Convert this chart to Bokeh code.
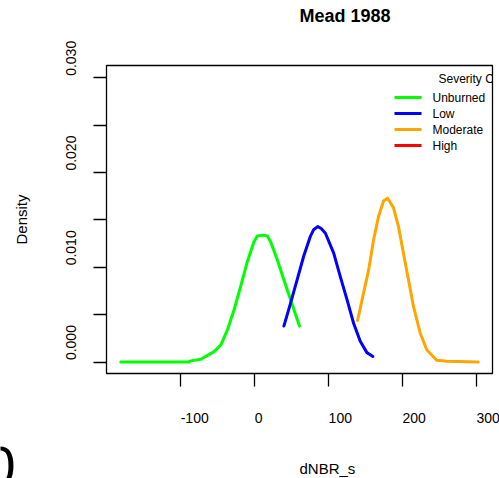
import math
from bokeh.plotting import figure
from bokeh.models import Range1d, Label, FixedTicker, CustomJSTickFormatter, LinearAxis
from bokeh.core.properties import value
from bokeh.embed import file_html
from bokeh.resources import INLINE

# ---------------- data ----------------
title_text = "Mead 1988"
x_label = "dNBR_s"
y_label = "Density"
legend_title = "Severity Class"
series_names = ["Unburned", "Low", "Moderate", "High"]
series_colors = ["#00FF00", "#0000FF", "#FFA500", "#FF0000"]

unburned_x = [-181, -88.5, -88, -72.8, -54.8, -45.8, -36.8, -27.9, -18.9, -9.9, -0.9, 3.6, 11.7, 17.1, 21.6, 30.6, 39.5, 48.5, 60.6]
unburned_y = [0.0, 0.0, 0.0001, 0.0003, 0.0011, 0.0018, 0.0034, 0.0055, 0.0080, 0.0106, 0.0127, 0.0133, 0.0134, 0.0133, 0.0127, 0.0108, 0.0087, 0.0066, 0.0038]

low_x = [39.5, 48.5, 57.5, 66.4, 75.5, 80.0, 85.3, 90.0, 95.7, 106.9, 115.9, 124.9, 133.8, 142.8, 151.8, 159.9]
low_y = [0.0038, 0.0062, 0.0087, 0.0112, 0.0133, 0.0140, 0.0143, 0.0141, 0.0136, 0.0115, 0.0090, 0.0066, 0.0041, 0.0022, 0.0010, 0.0006]

moderate_x = [139.2, 147.3, 154.1, 160.8, 167.6, 174.3, 179.7, 187.7, 194.5, 201.2, 208.0, 214.7, 223.7, 232.7, 246.2, 259.7, 302.3]
moderate_y = [0.0044, 0.0073, 0.0097, 0.0129, 0.0154, 0.0170, 0.0173, 0.0163, 0.0143, 0.0115, 0.0087, 0.0059, 0.0031, 0.0013, 0.0002, 0.0001, 0.0000]

high_x = []
high_y = []

y_limits = [0.0, 0.0301]

x_ticks = [-100, 0, 100, 200, 300]
x_tick_labels = ["-100", "0", "100", "200", "300"]
y_ticks = [0.0, 0.005, 0.010, 0.015, 0.020, 0.025, 0.030]
y_labeled_ticks = [0.0, 0.010, 0.020, 0.030]
y_tick_labels = ["0.000", "0.010", "0.020", "0.030"]

# ---------------- layout ----------------
W, H = 499, 478
FL, FR, FT, FB = 106, 492, 65, 373   # plot box edges in pixels (from top-left)
FONT = "Liberation Sans"

all_x = [unburned_x, low_x, moderate_x, high_x]
all_y = [unburned_y, low_y, moderate_y, high_y]

# R-style plot region: data range extended by 4 % on each side
xs_flat = [v for s in all_x for v in s]
xmin, xmax = min(xs_flat), max(xs_flat)
X0 = xmin - 0.04 * (xmax - xmin)
X1 = xmax + 0.04 * (xmax - xmin)
Y0 = y_limits[0] - 0.04 * (y_limits[1] - y_limits[0])
Y1 = y_limits[1] + 0.04 * (y_limits[1] - y_limits[0])

def dx(px):
    return X0 + (px - FL) / (FR - FL) * (X1 - X0)

def dy(py):
    return Y0 + (FB - py) / (FB - FT) * (Y1 - Y0)

px_per_y = (FB - FT) / (Y1 - Y0)

# the plotting frame spans the whole canvas; the R box is drawn inside it
p = figure(width=W, height=H, output_backend="svg", toolbar_location=None,
           x_range=Range1d(dx(0), dx(W)), y_range=Range1d(dy(H), dy(0)),
           x_axis_location=None, y_axis_location=None, min_border=0)
p.grid.visible = False
p.outline_line_color = None
p.background_fill_color = "white"
p.border_fill_color = "white"

blank = CustomJSTickFormatter(code="return ''")

def tick_axis(ticks, loc):
    ax = LinearAxis(ticker=FixedTicker(ticks=ticks), fixed_location=loc, formatter=blank)
    ax.axis_line_color = None
    ax.minor_tick_line_color = None
    ax.minor_tick_in = 0
    ax.minor_tick_out = 0
    ax.major_tick_out = 0
    ax.major_tick_in = 13
    ax.major_tick_line_width = 1.3
    ax.major_tick_line_color = "black"
    ax.major_label_text_color = None
    ax.major_label_standoff = 0
    return ax

# ticks pointing outward from the box (an "above" axis pinned at the box bottom
# draws its ticks downward, a "right" axis pinned at the box left draws them leftward)
p.add_layout(tick_axis(x_ticks, Y0), "above")
p.add_layout(tick_axis(y_ticks, X0), "right")

# density curves
for xs, ys, c in zip(all_x, all_y, series_colors):
    if xs:
        p.line(xs, ys, line_color=c, line_width=3, line_join="round", line_cap="round")

# legend (R legend clipped by the plot region)
leg_y_px = [97, 113, 129, 145]
p.segment(x0=[dx(394)] * 4, y0=[dy(py) for py in leg_y_px], x1=[dx(421)] * 4,
          y1=[dy(py) for py in leg_y_px], line_color=series_colors, line_width=3)
p.text(x=[dx(432)] * 4, y=[dy(py) for py in leg_y_px], text=series_names,
       text_font=value(FONT), text_font_size="12px", text_baseline="middle", text_align="left",
       text_color="black")
p.text(x=[dx(438)], y=[dy(78)], text=[legend_title], text_font=value(FONT), text_font_size="12px",
       text_baseline="middle", text_align="left", text_color="black")
# mask whatever of the legend spills past the box (R clips the legend to the plot region)
p.quad(left=[X1], right=[dx(W + 2)], bottom=[Y0], top=[Y1], fill_color="white", line_color=None)

# the box
p.quad(left=[X0], right=[X1], bottom=[Y0], top=[Y1], fill_color=None,
       line_color="black", line_width=1.3)

# tick labels (start-anchored at the tick, as in the reference)
p.text(x=x_ticks, y=[dy(417)] * len(x_ticks), text=x_tick_labels, text_font=value(FONT),
       text_font_size="14px", text_align="left", text_baseline="middle", text_color="black")
p.text(x=[dx(70)] * len(y_labeled_ticks), y=[t + 2 / px_per_y for t in y_labeled_ticks],
       text=y_tick_labels, angle=math.pi / 2, text_font=value(FONT), text_font_size="14px",
       text_align="left", text_baseline="middle", text_color="black")

# axis titles and main title
p.add_layout(Label(x=dx((FL + FR) / 2), y=dy(468), text=x_label,
                   text_font=FONT, text_font_size="15px", text_align="left",
                   text_baseline="middle", text_color="black"))
p.add_layout(Label(x=dx(21), y=dy((FT + FB) / 2), text=y_label,
                   angle=math.pi / 2, text_font=FONT, text_font_size="15px", text_align="center",
                   text_baseline="middle", text_color="black"))
p.add_layout(Label(x=dx((FL + FR) / 2), y=dy(15), text=title_text,
                   text_font=FONT, text_font_size="18px", text_font_style="bold", text_align="left",
                   text_baseline="middle", text_color="black"))
# stray large glyph cut at the lower-left edge
p.add_layout(Label(x=dx(-16), y=dy(465), text="0",
                   text_font=FONT, text_font_size="56px", text_align="left",
                   text_baseline="middle", text_color="black"))

open("out.html", "w").write(file_html(p, INLINE))
